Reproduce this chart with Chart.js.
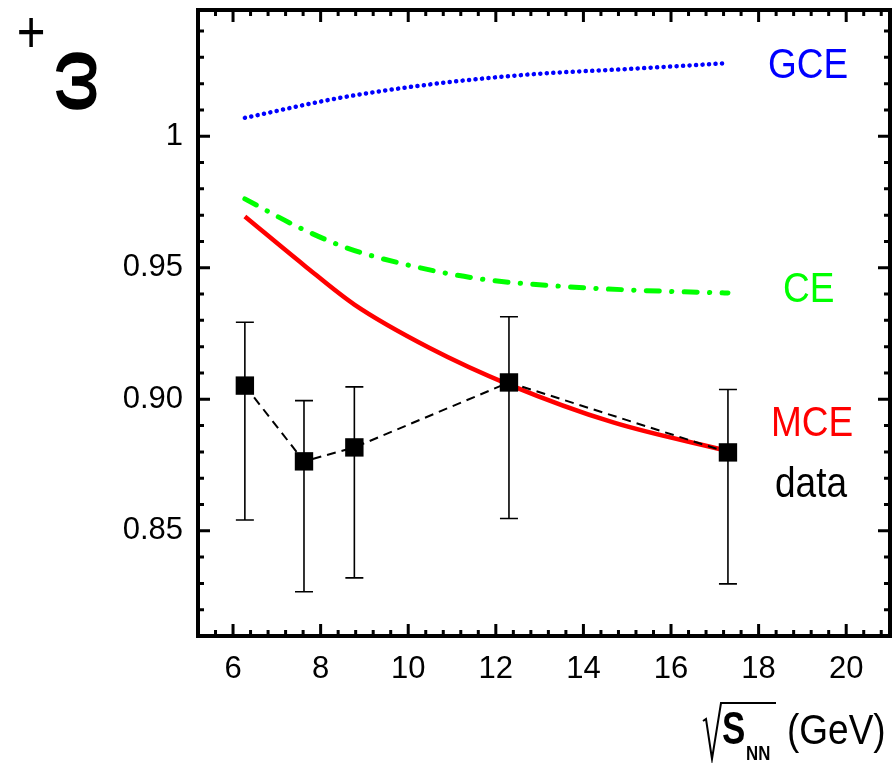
<!DOCTYPE html>
<html>
<head>
<meta charset="utf-8">
<script src="https://cdn.jsdelivr.net/npm/chart.js@4.4.1/dist/chart.umd.min.js"></script>
<style>
  html, body { margin: 0; padding: 0; background: #fff; }
  #wrap { width: 892px; height: 763px; position: relative; }
</style>
</head>
<body>
<div id="wrap"><canvas id="omegaChart"></canvas></div>
<script>
// Measured data (sqrt(s_NN) in GeV)
const dataX = [6.27, 7.62, 8.77, 12.3, 17.3];
const dataY = [0.9052, 0.8764, 0.8817, 0.9064, 0.8798];
const dataErrHigh = [0.9293, 0.8995, 0.9047, 0.9314, 0.9037];
const dataErrLow = [0.8541, 0.8268, 0.8321, 0.8547, 0.8298];

// Model curves
const gceX = [6.27, 8.44, 10.49, 12.77, 15.05, 17.3];
const gceY = [1.0070, 1.0146, 1.0197, 1.0235, 1.0256, 1.0278];

const ceX = [6.27, 7.45, 8.59, 10.11, 11.63, 13.53, 15.44, 17.3];
const ceY = [0.9762, 0.9658, 0.9576, 0.9506, 0.9458, 0.9429, 0.9413, 0.9404];

const mceX = [6.27, 7.62, 8.77, 10.49, 12.3, 14.68, 17.3];
const mceY = [0.9695, 0.9510, 0.9360, 0.9195, 0.9056, 0.8912, 0.8803];

// Axis ticks
const xTicks = [6, 8, 10, 12, 14, 16, 18, 20];
const yTicks = [0.85, 0.90, 0.95, 1.0];
const yTickLabels = ['0.85', '0.90', '0.95', '1'];

const FONT = "'Liberation Sans', Arial, sans-serif";

const toPoints = (xs, ys) => xs.map((x, i) => ({ x: x, y: ys[i] }));

// Text labels next to the curves
const seriesLabels = [
    { text: 'GCE', color: '#0000ff', x: 768, y: 78 },
    { text: 'CE', color: '#00ff00', x: 783, y: 302 },
    { text: 'MCE', color: '#ff0000', x: 771, y: 436 },
    { text: 'data', color: '#000000', x: 775, y: 497 }
];

function drawText(ctx, text, x, y, font, color, sx) {
    ctx.save();
    ctx.font = font;
    ctx.fillStyle = color;
    ctx.textAlign = 'left';
    ctx.textBaseline = 'alphabetic';
    ctx.scale(sx, 1);
    ctx.fillText(text, x / sx, y);
    const w = ctx.measureText(text).width * sx;
    ctx.restore();
    return w;
}

// no extra room for the end tick labels
function noPadding(s) {
    s.paddingLeft = 0;
    s.paddingRight = 0;
    s.paddingTop = 0;
    s.paddingBottom = 0;
}

// Frame with inward ticks on all four sides
const framePlugin = {
    id: 'frame',
    afterDraw(chart) {
        const { ctx, chartArea: a, scales: { x, y } } = chart;
        ctx.save();
        ctx.strokeStyle = '#000';
        ctx.lineCap = 'butt';

        ctx.lineWidth = 3;
        for (let v = 5.6; v < 21; v += 0.4) {
            const major = Math.abs(v / 2 - Math.round(v / 2)) < 1e-6;
            const len = major ? 12 : 6;
            const px = x.getPixelForValue(v);
            ctx.beginPath();
            ctx.moveTo(px, a.bottom); ctx.lineTo(px, a.bottom - len);
            ctx.moveTo(px, a.top); ctx.lineTo(px, a.top + len);
            ctx.stroke();
        }
        for (let i = 82; i <= 104; i++) {
            const v = i / 100;
            const major = i % 5 === 0;
            const len = major ? 12 : 6;
            const py = y.getPixelForValue(v);
            ctx.beginPath();
            ctx.moveTo(a.left, py); ctx.lineTo(a.left + len, py);
            ctx.moveTo(a.right, py); ctx.lineTo(a.right - len, py);
            ctx.stroke();
        }

        ctx.lineWidth = 4;
        ctx.strokeRect(a.left, a.top, a.right - a.left, a.bottom - a.top);
        ctx.restore();
    }
};

// Vertical error bars for the data points
const errorBarPlugin = {
    id: 'errorBars',
    beforeDatasetsDraw(chart) {
        const { ctx, scales: { x, y } } = chart;
        ctx.save();
        ctx.strokeStyle = '#000';
        ctx.lineWidth = 1.6;
        dataX.forEach((xv, i) => {
            const px = x.getPixelForValue(xv);
            const top = y.getPixelForValue(dataErrHigh[i]);
            const bot = y.getPixelForValue(dataErrLow[i]);
            ctx.beginPath();
            ctx.moveTo(px, top); ctx.lineTo(px, bot);
            ctx.moveTo(px - 9, top); ctx.lineTo(px + 9, top);
            ctx.moveTo(px - 9, bot); ctx.lineTo(px + 9, bot);
            ctx.stroke();
        });
        ctx.restore();
    }
};

// Series labels and axis titles
const labelPlugin = {
    id: 'labels',
    afterDraw(chart) {
        const { ctx } = chart;
        seriesLabels.forEach(l => {
            drawText(ctx, l.text, l.x, l.y, `43px ${FONT}`, l.color, 0.86);
        });

        // y title: omega with superscript plus, rotated
        ctx.save();
        ctx.translate(77, 81);
        ctx.rotate(-Math.PI / 2);
        ctx.font = `bold 75px ${FONT}`;
        ctx.fillStyle = '#000';
        ctx.textAlign = 'center';
        ctx.textBaseline = 'alphabetic';
        ctx.fillText('ω', 0, 19);
        ctx.restore();
        ctx.save();
        ctx.font = `60px ${FONT}`;
        ctx.fillStyle = '#000';
        ctx.textAlign = 'center';
        ctx.textBaseline = 'middle';
        ctx.scale(0.82, 1);
        ctx.fillText('+', 31 / 0.82, 35);
        ctx.restore();

        // x title: sqrt(s_NN) (GeV)
        const base = 744;
        drawText(ctx, 'S', 722, base, `bold 46px ${FONT}`, '#000', 0.76);
        drawText(ctx, 'NN', 746, 760, `bold 20px ${FONT}`, '#000', 0.84);
        drawText(ctx, '(GeV)', 787, base, `43px ${FONT}`, '#000', 0.86);
        ctx.save();
        ctx.strokeStyle = '#000';
        ctx.lineWidth = 2;
        ctx.lineJoin = 'miter';
        ctx.beginPath();
        ctx.moveTo(703, 721);
        ctx.lineTo(706, 719);
        ctx.lineTo(712, 759);
        ctx.lineTo(721, 703);
        ctx.lineTo(776, 703);
        ctx.stroke();
        ctx.restore();
    }
};

const ctx = document.getElementById('omegaChart').getContext('2d');
new Chart(ctx, {
    type: 'scatter',
    data: {
        datasets: [
            {
                label: 'data',
                data: toPoints(dataX, dataY),
                showLine: true,
                borderColor: '#000',
                borderWidth: 2,
                borderDash: [9, 6],
                backgroundColor: '#000',
                pointStyle: 'rect',
                pointRadius: 13,
                pointBorderWidth: 0
            },
            {
                label: 'MCE',
                data: toPoints(mceX, mceY),
                showLine: true,
                borderColor: '#ff0000',
                borderWidth: 4.5,
                cubicInterpolationMode: 'monotone',
                pointRadius: 0
            },
            {
                label: 'CE',
                data: toPoints(ceX, ceY),
                showLine: true,
                borderColor: '#00ff00',
                borderWidth: 5,
                borderCapStyle: 'round',
                borderDash: [13, 12.3, 0.3, 12.3],
                cubicInterpolationMode: 'monotone',
                pointRadius: 0
            },
            {
                label: 'GCE',
                data: toPoints(gceX, gceY),
                showLine: true,
                borderColor: '#0000ff',
                borderWidth: 4.5,
                borderCapStyle: 'round',
                borderDash: [0.1, 6.4],
                cubicInterpolationMode: 'monotone',
                pointRadius: 0
            }
        ]
    },
    options: {
        responsive: true,
        maintainAspectRatio: false,
        animation: false,
        events: [],
        layout: { autoPadding: false, padding: { top: 10, right: 2, left: 0, bottom: 0 } },
        plugins: {
            legend: { display: false },
            tooltip: { enabled: false }
        },
        scales: {
            x: {
                type: 'linear',
                min: 5.2,
                max: 21,
                grid: { display: false, drawTicks: false },
                border: { display: false },
                ticks: {
                    color: '#000',
                    font: { family: FONT, size: 31 },
                    padding: 15,
                    maxRotation: 0,
                    autoSkip: false
                },
                afterBuildTicks: s => { s.ticks = xTicks.map(v => ({ value: v })); },
                afterFit: s => { s.height = 127; noPadding(s); }
            },
            y: {
                type: 'linear',
                min: 0.81,
                max: 1.048,
                grid: { display: false, drawTicks: false },
                border: { display: false },
                ticks: {
                    color: '#000',
                    font: { family: FONT, size: 31 },
                    padding: 15,
                    autoSkip: false,
                    callback: v => {
                        const i = yTicks.findIndex(t => Math.abs(t - v) < 1e-9);
                        return i >= 0 ? yTickLabels[i] : '';
                    }
                },
                afterBuildTicks: s => { s.ticks = yTicks.map(v => ({ value: v })); },
                afterFit: s => { s.width = 198; noPadding(s); }
            }
        }
    },
    plugins: [errorBarPlugin, framePlugin, labelPlugin]
});
</script>
</body>
</html>
